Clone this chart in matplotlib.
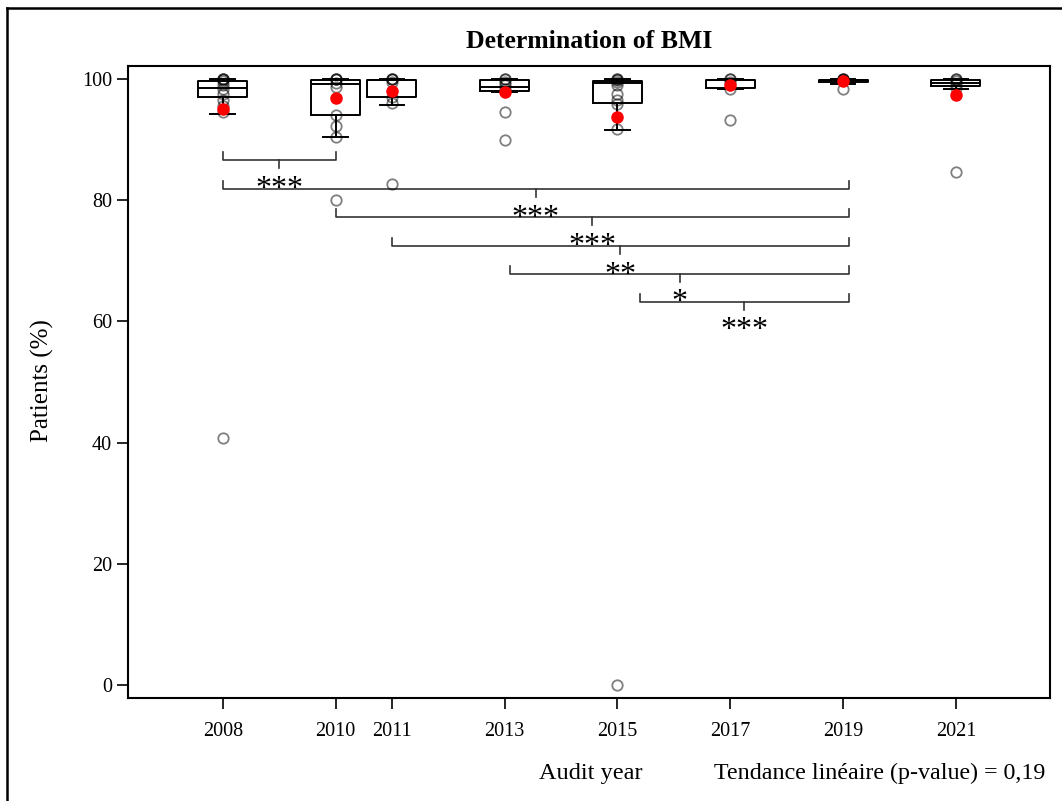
import numpy as np
import matplotlib.pyplot as plt
from matplotlib.lines import Line2D

plt.rcParams['font.family'] = ['Liberation Serif', 'DejaVu Serif']

# audit years and box statistics
years = [2008, 2010, 2011, 2013, 2015, 2017, 2019, 2021]
q1 = [97.0, 94.1, 97.0, 98.1, 96.0, 98.5, 99.45, 98.9]
med = [98.5, 99.2, 99.8, 98.7, 99.4, 99.9, 99.8, 99.4]
q3 = [99.7, 99.9, 99.9, 99.9, 99.7, 99.9, 99.9, 99.9]
whislo = [94.3, 90.4, 95.7, 97.8, 91.6, 98.3, 99.1, 98.3]
whishi = [100, 100, 100, 100, 100, 100, 100, 100]
means = [95.0, 96.9, 98.1, 97.9, 93.8, 99.0, 99.7, 97.4]

# individual centre values (grey circles)
points = {
    2008: [100, 100, 100, 99.6, 99.0, 98.3, 97.6, 96.6, 95.5, 94.5, 40.7],
    2010: [100, 100, 100, 99.4, 98.7, 94.0, 92.3, 90.5, 80.0],
    2011: [100, 100, 100, 99.5, 97.0, 96.0, 82.7],
    2013: [100, 100, 99.5, 99.0, 98.3, 94.6, 90.0],
    2015: [100, 100, 99.8, 99.5, 99.0, 97.5, 96.5, 95.9, 91.7, 0.0],
    2017: [100, 100, 99.5, 98.3, 93.2],
    2019: [100, 100, 100, 99.8, 98.3],
    2021: [100, 100, 99.6, 99.2, 98.6, 84.7],
}

# significance brackets
br_start = [2008, 2008, 2010, 2011, 2013.1, 2015.4]
br_end = [2010, 2019.1, 2019.1, 2019.1, 2019.1, 2019.1]
br_y = [86.6, 81.8, 77.2, 72.4, 67.8, 63.2]
br_lab = ['***', '***', '***', '**', '*', '***']

fig = plt.figure(figsize=(10.62, 8.01), dpi=100)
ax = fig.add_axes([128/1062, 1-698/801, (1050-128)/1062, (698-66)/801])

stats = []
for i in range(len(years)):
    stats.append(dict(med=med[i], q1=q1[i], q3=q3[i], whislo=whislo[i], whishi=whishi[i], fliers=[]))

ax.bxp(stats, positions=years, widths=0.87, showfliers=False,
       boxprops=dict(color='black', lw=1.4),
       medianprops=dict(color='black', lw=1.4),
       whiskerprops=dict(color='black', lw=1.4),
       capprops=dict(color='black', lw=1.4),
       manage_ticks=False, zorder=2)

for yr in years:
    vals = points[yr]
    ax.plot([yr]*len(vals), vals, 'o', mfc='none', mec='black', alpha=0.5,
            ms=7.5, mew=1.3, zorder=3)

ax.plot(years, means, 'o', color='red', ms=8, zorder=4, ls='none')

for s, e, y, lab in zip(br_start, br_end, br_y, br_lab):
    ax.plot([s, s, e, e], [y+1.3, y, y, y+1.3], color='#333333', lw=1.2, zorder=1)
    c = (s+e)/2
    ax.plot([c, c], [y, y-1.3], color='#333333', lw=1.2, zorder=1)
    ax.text(c, y-6.0, lab, ha='center', va='baseline', fontsize=23)

ax.set_xlim(2006.32, 2022.67)
ax.set_ylim(-2.15, 102.15)
ax.set_xticks(years)
ax.set_xticklabels([str(y) for y in years])
ax.set_yticks([0, 20, 40, 60, 80, 100])
ax.tick_params(axis='both', labelsize=14.5, length=8, width=1.2, direction='out')
ax.tick_params(axis='x', pad=9)
for sp in ax.spines.values():
    sp.set_linewidth(1.5)

fig.text(589/1062, 1-41/801, 'Determination of BMI', ha='center', va='center',
         fontsize=18.5, fontweight='bold')
fig.text(42/1062, 1-381/801, 'Patients (%)', rotation=90, ha='center', va='center', fontsize=18)
fig.text(591/1062, 1-773/801, 'Audit year', ha='center', va='center', fontsize=17.5)
fig.text(714/1062, 1-773/801, 'Tendance linéaire (p-value) = 0,19', ha='left', va='center', fontsize=17.3)

# outer frame
fig.add_artist(Line2D([7/1062, 7/1062], [0, 1-8/801], color='black', lw=1.8))
fig.add_artist(Line2D([7/1062, 1], [1-8/801, 1-8/801], color='black', lw=1.8))

fig.savefig('out.png', dpi=100)
